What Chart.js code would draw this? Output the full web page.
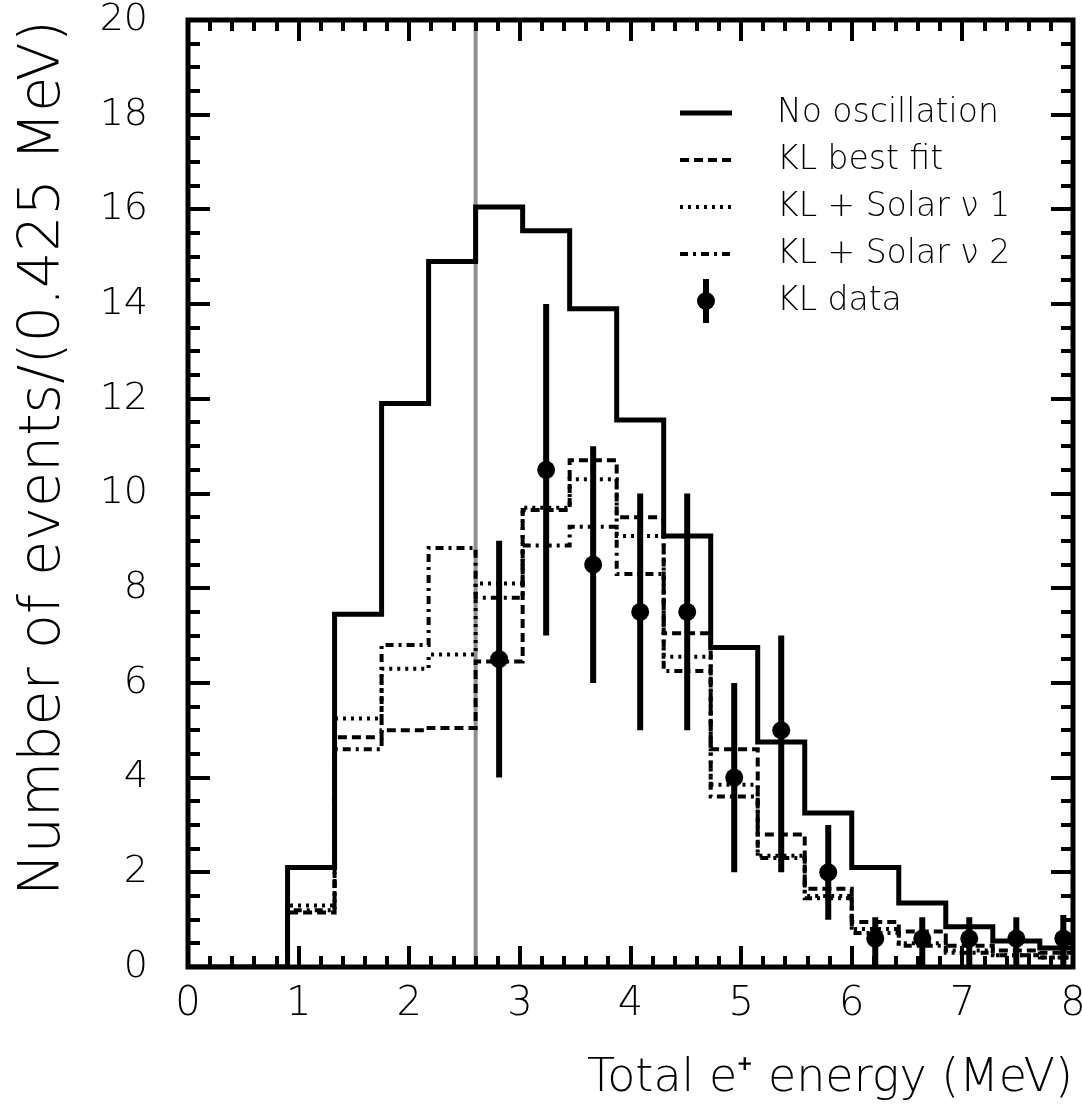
<!DOCTYPE html>
<html>
<head>
<meta charset="utf-8">
<title>Total e+ energy spectrum</title>
<script src="https://cdn.jsdelivr.net/npm/chart.js@4.4.1/dist/chart.umd.min.js"></script>
<style>
  html, body { margin: 0; padding: 0; background: #fff; }
  #wrap { width: 1082px; height: 1109px; }
</style>
</head>
<body>
<div id="wrap"><canvas id="spectrum" width="1082" height="1109"></canvas></div>
<script>
"use strict";

/* ------------------------------------------------------------------
 * Data
 * ------------------------------------------------------------------ */
// lower edge of each 0.425 MeV bin, plus the upper edge of the last one
const binLow  = [0.9, 1.325, 1.75, 2.175, 2.6, 3.025, 3.45, 3.875, 4.3, 4.725, 5.15, 5.575, 6.0, 6.425, 6.85, 7.275, 7.7];
const binLast = 8.125;

const noOscillation = [2.1, 7.45, 11.9, 14.9, 16.05, 15.55, 13.9, 11.55, 9.1, 6.75, 4.75, 3.25, 2.1, 1.35, 0.85, 0.55, 0.4];
const klBestFit     = [1.15, 4.85, 5.0, 5.05, 6.45, 9.65, 10.7, 9.5, 7.05, 4.6, 2.8, 1.65, 0.95, 0.75, 0.45, 0.35, 0.3];
const klSolar1      = [1.3, 5.25, 6.3, 6.6, 8.1, 9.7, 10.3, 9.1, 6.55, 3.85, 2.35, 1.5, 0.8, 0.5, 0.35, 0.25, 0.2];
const klSolar2      = [1.2, 4.6, 6.8, 8.85, 7.8, 8.9, 9.3, 8.3, 6.25, 3.6, 2.3, 1.45, 0.72, 0.45, 0.3, 0.25, 0.2];

const dataEnergy  = [2.8125, 3.2375, 3.6625, 4.0875, 4.5125, 4.9375, 5.3625, 5.7875, 6.2125, 6.6375, 7.0625, 7.4875, 7.9125];
const dataCounts  = [6.5, 10.5, 8.5, 7.5, 7.5, 4.0, 5.0, 2.0, 0.6, 0.6, 0.6, 0.6, 0.6];
const dataErrLow  = [4.0, 7.0, 6.0, 5.0, 5.0, 2.0, 2.0, 1.0, 0, 0, 0, 0, 0];
const dataErrHigh = [9.0, 14.0, 11.0, 10.0, 10.0, 6.0, 7.0, 3.0, 1.05, 1.05, 1.05, 1.05, 1.1];

const thresholdEnergy = 2.6;

const xTickValues = [0, 1, 2, 3, 4, 5, 6, 7, 8];
const xTickLabels = ["0", "1", "2", "3", "4", "5", "6", "7", "8"];
const yTickValues = [0, 2, 4, 6, 8, 10, 12, 14, 16, 18, 20];
const yTickLabels = ["0", "2", "4", "6", "8", "10", "12", "14", "16", "18", "20"];

/* ------------------------------------------------------------------
 * Helpers
 * ------------------------------------------------------------------ */
const FONT = '"DejaVu Sans", "Liberation Sans", sans-serif';

// histogram outline: starts on the axis, one point per lower bin edge
function _histPoints(values, fromZero) {
  const pts = [];
  if (fromZero) pts.push({ x: 0, y: 0 });
  pts.push({ x: binLow[0], y: 0 });
  values.forEach(function (v, i) { pts.push({ x: binLow[i], y: v }); });
  pts.push({ x: binLast, y: values[values.length - 1] });
  return pts;
}

function _histDataset(label, values, dash, width, fromZero) {
  return {
    label: label,
    data: _histPoints(values, fromZero),
    borderColor: "#000",
    borderWidth: width,
    borderDash: dash,
    borderCapStyle: "butt",
    borderJoinStyle: "miter",
    stepped: "before",
    pointRadius: 0,
    fill: false,
  };
}

/* ------------------------------------------------------------------
 * Plugins
 * ------------------------------------------------------------------ */
const frameTicks = {
  id: "frameTicks",
  afterDraw(chart) {
    const { ctx, chartArea: a, scales: { x, y } } = chart;
    ctx.save();
    ctx.strokeStyle = "#000";
    ctx.lineCap = "butt";
    ctx.setLineDash([]);

    ctx.lineWidth = 4;
    ctx.beginPath();
    for (let k = 1; k < 40; k++) {
      const px = Math.round(x.getPixelForValue(k * 0.2));
      const len = k % 5 === 0 ? 21 : 11;
      ctx.moveTo(px, a.bottom); ctx.lineTo(px, a.bottom - len);
      ctx.moveTo(px, a.top);    ctx.lineTo(px, a.top + len);
    }
    for (let k = 1; k < 40; k++) {
      const py = Math.round(y.getPixelForValue(k * 0.5));
      const len = k % 4 === 0 ? 22 : 12;
      ctx.moveTo(a.left, py);  ctx.lineTo(a.left + len, py);
      ctx.moveTo(a.right, py); ctx.lineTo(a.right - len, py);
    }
    ctx.stroke();

    ctx.lineWidth = 5;
    ctx.strokeRect(a.left, a.top, a.right - a.left, a.bottom - a.top);
    ctx.restore();
  },
};

const errorBars = {
  id: "errorBars",
  afterDatasetsDraw(chart) {
    const { ctx, scales: { x, y } } = chart;
    ctx.save();
    ctx.strokeStyle = "#000";
    ctx.lineWidth = 6;
    ctx.lineCap = "butt";
    ctx.beginPath();
    dataEnergy.forEach(function (e, i) {
      const px = x.getPixelForValue(e);
      ctx.moveTo(px, y.getPixelForValue(dataErrLow[i]));
      ctx.lineTo(px, y.getPixelForValue(dataErrHigh[i]));
    });
    ctx.stroke();
    ctx.restore();
  },
};

const insideLegend = {
  id: "insideLegend",
  afterDraw(chart) {
    const { ctx, chartArea: a } = chart;
    const order = [1, 2, 3, 4, 0];
    const x0 = a.left + 492, x1 = a.left + 544, tx = a.left + 589;
    ctx.save();
    ctx.fillStyle = "#000";
    ctx.strokeStyle = "#000";
    ctx.font = "200 33px " + FONT;
    ctx.textBaseline = "middle";
    order.forEach(function (di, row) {
      const ds = chart.data.datasets[di];
      const cy = a.top + 93 + row * 47;
      if (ds.type === "scatter") {
        const cx = (x0 + x1) / 2;
        ctx.lineWidth = 6;
        ctx.setLineDash([]);
        ctx.beginPath();
        ctx.moveTo(cx, cy - 22); ctx.lineTo(cx, cy + 22);
        ctx.stroke();
        ctx.beginPath();
        ctx.arc(cx, cy, 9, 0, Math.PI * 2);
        ctx.fill();
      } else {
        ctx.lineWidth = ds.borderWidth;
        ctx.setLineDash(ds.borderDash || []);
        ctx.beginPath();
        ctx.moveTo(x0, cy); ctx.lineTo(x1, cy);
        ctx.stroke();
      }
      ctx.setLineDash([]);
      ctx.fillText(ds.label, tx, cy);
    });
    ctx.restore();
  },
};

/* ------------------------------------------------------------------
 * Chart
 * ------------------------------------------------------------------ */
const datasets = [
  {
    type: "scatter",
    label: "KL data",
    data: dataEnergy.map(function (e, i) { return { x: e, y: dataCounts[i] }; }),
    pointRadius: 9,
    pointBackgroundColor: "#000",
    pointBorderWidth: 0,
  },
  _histDataset("No oscillation", noOscillation, [], 5, true),
  _histDataset("KL best fit", klBestFit, [9, 5], 4, false),
  _histDataset("KL + Solar \u03BD 1", klSolar1, [3, 5], 4, false),
  _histDataset("KL + Solar \u03BD 2", klSolar2, [8, 5, 3, 5], 4, false),
  {
    label: "threshold",
    data: [{ x: thresholdEnergy, y: 0 }, { x: thresholdEnergy, y: 20 }],
    borderColor: "#8f8f8f",
    borderWidth: 4,
    pointRadius: 0,
    fill: false,
  },
];

new Chart(document.getElementById("spectrum").getContext("2d"), {
  type: "line",
  data: { datasets: datasets },
  plugins: [frameTicks, errorBars, insideLegend],
  options: {
    responsive: false,
    devicePixelRatio: 1,
    animation: false,
    layout: { padding: { left: 0, right: 7, top: 20, bottom: 0 } },
    plugins: {
      legend:  { display: false },
      tooltip: { enabled: false },
    },
    scales: {
      x: {
        type: "linear",
        min: 0,
        max: 8,
        afterBuildTicks: function (s) { s.ticks = xTickValues.map(function (v) { return { value: v }; }); },
        afterFit: function (s) { s.height = 142; s.paddingLeft = 0; s.paddingRight = 0; },
        grid:   { display: false, drawTicks: false },
        border: { display: false },
        ticks: {
          color: "#000",
          autoSkip: false,
          maxRotation: 0,
          padding: 14,
          font: { family: FONT, size: 40, weight: "200" },
          callback: function (v, i) { return xTickLabels[i]; },
        },
        title: {
          display: true,
          text: "Total e\u207A energy (MeV)",
          align: "end",
          color: "#000",
          padding: { top: 0, bottom: 2 },
          font: { family: FONT, size: 46, weight: "200" },
        },
      },
      y: {
        type: "linear",
        min: 0,
        max: 20,
        afterBuildTicks: function (s) { s.ticks = yTickValues.map(function (v) { return { value: v }; }); },
        afterFit: function (s) { s.width = 188; s.paddingTop = 0; s.paddingBottom = 0; },
        grid:   { display: false, drawTicks: false },
        border: { display: false },
        ticks: {
          color: "#000",
          autoSkip: false,
          padding: 40,
          font: { family: FONT, size: 38, weight: "200" },
          callback: function (v, i) { return yTickLabels[i]; },
        },
        title: {
          display: true,
          text: "Number of events/(0.425 MeV)",
          align: "end",
          color: "#000",
          padding: { top: 10, bottom: 0 },
          font: { family: FONT, size: 57, weight: "200" },
        },
      },
    },
  },
});
</script>
</body>
</html>
